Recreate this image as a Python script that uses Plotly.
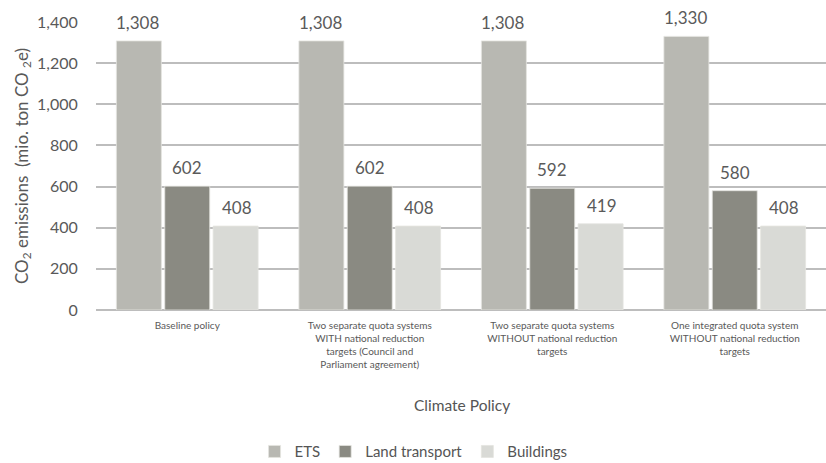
import plotly.graph_objects as go

categories = [
    "Baseline policy",
    "Two separate quota systems<br>WITH national reduction<br>targets (Council and<br>Parliament agreement)",
    "Two separate quota systems<br>WITHOUT national reduction<br>targets",
    "One integrated quota system<br>WITHOUT national reduction<br>targets",
]
series_names = ["ETS", "Land transport", "Buildings"]
ets = [1308, 1308, 1308, 1330]
land_transport = [602, 602, 592, 580]
buildings = [408, 408, 419, 408]
y_ticks = [0, 200, 400, 600, 800, 1000, 1200, 1400]

colors = ["#b8b8b2", "#8a8a82", "#d9dad6"]
series_values = [ets, land_transport, buildings]
FONT = "Lato"

fig = go.Figure()
for name, vals, col in zip(series_names, series_values, colors):
    fig.add_trace(go.Bar(
        name=name, x=categories, y=vals,
        marker=dict(color=col, line=dict(color="#e4e4e0", width=0.8)),
        hoverinfo="skip",
    ))

shifts = [-49.5, 0, 49.5]
for s, vals in zip(shifts, series_values):
    for c, v in zip(categories, vals):
        fig.add_annotation(
            x=c, y=v, xref="x", yref="y", text=f"{v:,}", showarrow=False,
            xshift=s, yshift=6, yanchor="bottom",
            font=dict(family=FONT, size=17, color="#5a5a5a"),
        )

fig.add_annotation(
    x=0.501, y=-0.33, xref="paper", yref="paper", text="Climate Policy",
    showarrow=False, yanchor="middle",
    font=dict(family=FONT, size=15.5, color="#555555"),
)

fig.update_layout(
    width=826, height=463,
    margin=dict(l=96, r=0, t=22, b=153, autoexpand=False),
    paper_bgcolor="white", plot_bgcolor="white",
    barmode="group", bargap=0.205, bargroupgap=0.07,
    font=dict(family=FONT, color="#595959"),
    showlegend=True,
    legend=dict(
        orientation="h", x=0.435, xanchor="center", y=-0.492, yanchor="middle",
        font=dict(family=FONT, size=15, color="#555555"),
        itemwidth=30, tracegroupgap=0,
    ),
    xaxis=dict(
        tickfont=dict(family=FONT, size=10, color="#595959"),
        showgrid=False, ticks="outside", ticklen=6, tickcolor="rgba(0,0,0,0)",
        showline=False, automargin=False,
    ),
    yaxis=dict(
        range=[0, 1400], tickvals=y_ticks, tickformat=",",
        tickfont=dict(family=FONT, size=16, color="#595959"),
        showgrid=True, gridcolor="#bdbdbd", gridwidth=1.6,
        zeroline=True, zerolinecolor="#bdbdbd", zerolinewidth=1.6,
        ticks="outside", ticklen=14, tickcolor="rgba(0,0,0,0)",
        automargin=False,
        title=dict(
            text="CO<sub>2</sub> emissions  (mio. ton CO <sub>2</sub>e)",
            font=dict(family=FONT, size=17, color="#595959"),
            standoff=4,
        ),
    ),
)

fig.write_html(
    "out.html",
    config={"displayModeBar": False},
    post_script="document.body.style.margin='0';document.body.style.overflow='hidden';",
)
